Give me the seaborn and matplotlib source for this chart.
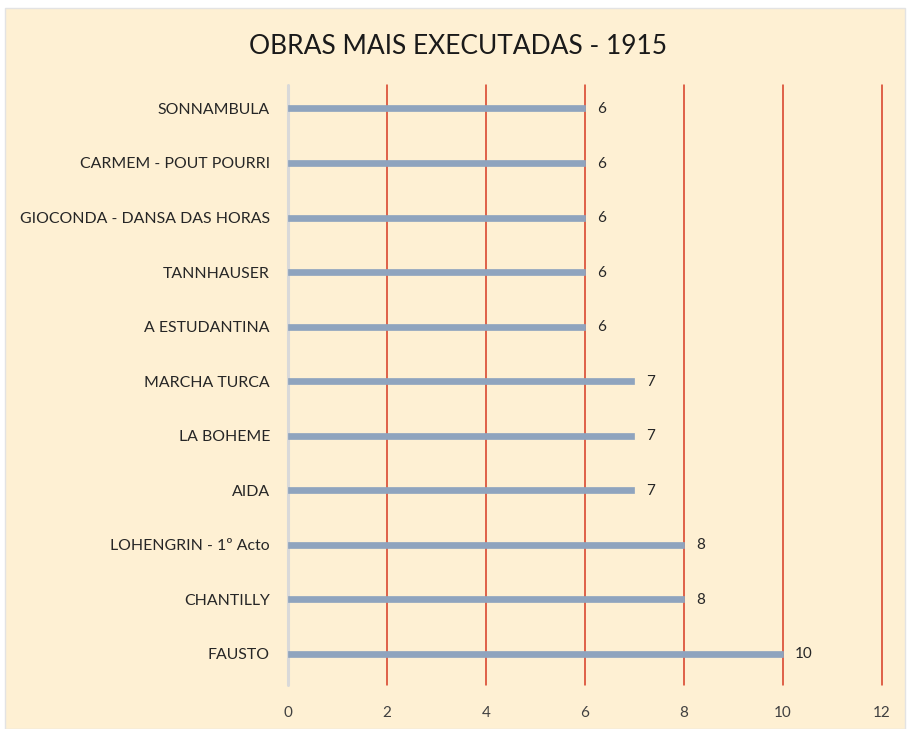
import matplotlib
matplotlib.use("Agg")
import matplotlib.pyplot as plt
from matplotlib.patches import Rectangle
import seaborn as sns
import pandas as pd

obras = ["SONNAMBULA", "CARMEM - POUT POURRI", "GIOCONDA - DANSA DAS HORAS",
         "TANNHAUSER", "A ESTUDANTINA", "MARCHA TURCA", "LA BOHEME", "AIDA",
         "LOHENGRIN - 1º Acto", "CHANTILLY", "FAUSTO"]
execucoes = [6, 6, 6, 6, 6, 7, 7, 7, 8, 8, 10]
x_ticks = [0, 2, 4, 6, 8, 10, 12]

df = pd.DataFrame({"obra": obras, "n": execucoes})

sns.set_style("white")
plt.rcParams['font.family'] = ['Lato', 'DejaVu Sans']

bg = "#FEF0D3"
bar_col = "#8FA4BE"
fig = plt.figure(figsize=(9.07, 7.29), dpi=100, facecolor="white")
fig.patches.append(Rectangle((0.006, 0.0), 0.992, 0.989, transform=fig.transFigure,
                             facecolor=bg, edgecolor="#E3E3E3", linewidth=1, zorder=-5))
ax = fig.add_axes([0.3175, 0.0604, 0.6549, 0.823])
ax.set_facecolor(bg)

sns.barplot(data=df, x="n", y="obra", order=obras, orient="h", width=0.11,
            color=bar_col, saturation=1, edgecolor=bar_col, linewidth=0.5,
            ax=ax, zorder=3)

ax.set_xlim(0, 12)
ax.set_ylim(10.57, -0.43)
ax.set_xticks(x_ticks)
ax.set_xticklabels([str(t) for t in x_ticks], fontsize=11, color="#404040")
ax.tick_params(axis="y", labelsize=11.4, labelcolor="#262626", length=0, pad=13)
ax.tick_params(axis="x", length=0, pad=15)
ax.set_xlabel("")
ax.set_ylabel("")

for t in x_ticks[1:]:
    ax.axvline(t, color="#D63A22", linewidth=1.1, zorder=1, clip_on=False)
ax.axvline(0, color="#D9D9D9", linewidth=2.2, zorder=2, clip_on=False)

for sp in ax.spines.values():
    sp.set_visible(False)

for i, v in enumerate(execucoes):
    ax.text(v + 0.24, i + 0.01, str(v), va="center", ha="left", fontsize=11, color="#262626")

fig.text(0.505, 0.936, "OBRAS MAIS EXECUTADAS - 1915", ha="center", va="center",
         fontsize=19, color="#1A1A1A")

fig.savefig("out.png", dpi=100, facecolor="white")
